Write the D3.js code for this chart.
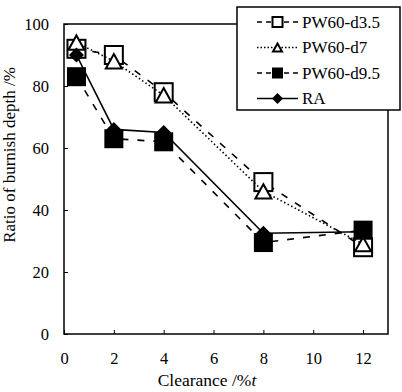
<!DOCTYPE html>
<html>
<head>
<meta charset="utf-8">
<script src="https://cdn.jsdelivr.net/npm/d3@7"></script>
<style>
  body { margin: 0; background: #fff; }
</style>
</head>
<body>
<script>
var clearance = [0.5, 2, 4, 8, 12];
var d35 = [92, 90, 78, 49, 28];
var d7 = [94, 88, 77, 46, 29];
var d95 = [83, 63, 62, 29.5, 33.5];
var ra = [90, 66, 65, 32.5, 33];
var seriesNames = ["PW60-d3.5", "PW60-d7", "PW60-d9.5", "RA"];
var xTicks = [0, 2, 4, 6, 8, 10, 12];
var yTicks = [0, 20, 40, 60, 80, 100];

var width = 402, height = 392;
var margin = {left: 64, right: 14, top: 24, bottom: 58};
var serif = "Liberation Serif";

var svg = d3.select("body").append("svg")
  .attr("width", width)
  .attr("height", height)
  .attr("font-family", serif);

var x = d3.scaleLinear().domain([0, 13]).range([margin.left, width - margin.right]);
var y = d3.scaleLinear().domain([0, 100]).range([height - margin.bottom, margin.top]);

// plot frame
svg.append("rect")
  .attr("x", x(0)).attr("y", y(100))
  .attr("width", x(13) - x(0)).attr("height", y(0) - y(100))
  .attr("fill", "none").attr("stroke", "#000").attr("stroke-width", 1.5);

// axes with inward ticks
var xAxis = svg.append("g")
  .attr("transform", "translate(0," + y(0) + ")")
  .call(d3.axisBottom(x).tickValues(xTicks).tickSize(-4).tickPadding(18));
var yAxis = svg.append("g")
  .attr("transform", "translate(" + x(0) + ",0)")
  .call(d3.axisLeft(y).tickValues(yTicks).tickSize(-4).tickPadding(15));
[xAxis, yAxis].forEach(function(a){
  a.attr("font-family", serif).attr("font-size", 16.5);
  a.select(".domain").remove();
  a.selectAll("line").attr("stroke", "#000");
  a.selectAll("text").attr("fill", "#000");
});

var series = [
  {name: seriesNames[0], vals: d35, dash: "7,9", marker: "sqOpen"},
  {name: seriesNames[1], vals: d7, dash: "1.5,2.5", marker: "tri"},
  {name: seriesNames[2], vals: d95, dash: "7,9", marker: "sqFill"},
  {name: seriesNames[3], vals: ra, dash: null, marker: "diamond"}
];

var line = d3.line()
  .x(function(d){ return x(d[0]); })
  .y(function(d){ return y(d[1]); });

function drawMarker(g, type, cx, cy, s) {
  if (type == "sqOpen") {
    g.append("rect").attr("x", cx - s/2).attr("y", cy - s/2).attr("width", s).attr("height", s)
      .attr("fill", "#fff").attr("stroke", "#000").attr("stroke-width", 2);
  } else if (type == "sqFill") {
    g.append("rect").attr("x", cx - s/2).attr("y", cy - s/2).attr("width", s).attr("height", s)
      .attr("fill", "#000");
  } else if (type == "tri") {
    var h = s * 0.9;
    g.append("path")
      .attr("d", "M" + cx + "," + (cy - h/2) + "L" + (cx + s/2) + "," + (cy + h/2) + "L" + (cx - s/2) + "," + (cy + h/2) + "Z")
      .attr("fill", "#fff").attr("stroke", "#000").attr("stroke-width", 2);
  } else {
    var r = s / 2;
    g.append("path")
      .attr("d", "M" + cx + "," + (cy - r) + "L" + (cx + r) + "," + cy + "L" + cx + "," + (cy + r) + "L" + (cx - r) + "," + cy + "Z")
      .attr("fill", "#000");
  }
}

var sizes = {sqOpen: 18, tri: 16, sqFill: 19, diamond: 15};

series.forEach(function(s){
  var pts = clearance.map(function(c, i){ return [c, s.vals[i]]; });
  var g = svg.append("g");
  g.append("path")
    .attr("d", line(pts))
    .attr("fill", "none")
    .attr("stroke", "#000")
    .attr("stroke-width", 1.6)
    .attr("stroke-dasharray", s.dash);
  pts.forEach(function(p){
    drawMarker(g, s.marker, x(p[0]), y(p[1]), sizes[s.marker]);
  });
});

// legend
var lg = svg.append("g");
lg.append("rect")
  .attr("x", 237).attr("y", 7).attr("width", 163).attr("height", 103)
  .attr("fill", "#fff").attr("stroke", "#000").attr("stroke-width", 1.5);
var legendSizes = {sqOpen: 10, tri: 9, sqFill: 11, diamond: 11};
var legendDash = ["5,4", "1.5,2", "5,4", null];
series.forEach(function(s, i){
  var ly = 22 + i * 25.5;
  lg.append("line")
    .attr("x1", 257).attr("x2", 298).attr("y1", ly).attr("y2", ly)
    .attr("stroke", "#000").attr("stroke-width", 1.6)
    .attr("stroke-dasharray", legendDash[i]);
  drawMarker(lg, s.marker, 277.5, ly, legendSizes[s.marker]);
  lg.append("text")
    .attr("x", 302).attr("y", ly + 5.5)
    .attr("font-size", 17)
    .text(s.name);
});

// axis titles
svg.append("text")
  .attr("transform", "translate(15,155) rotate(-90)")
  .attr("text-anchor", "middle")
  .attr("font-size", 17)
  .text("Ratio of burnish depth /%");

var xt = svg.append("text")
  .attr("x", 207).attr("y", 386)
  .attr("text-anchor", "middle")
  .attr("font-size", 17.5);
xt.append("tspan").text("Clearance /%");
xt.append("tspan").attr("font-style", "italic").text("t");

svg.selectAll("text, tspan").style("font-family", serif, "important");
</script>
</body>
</html>
